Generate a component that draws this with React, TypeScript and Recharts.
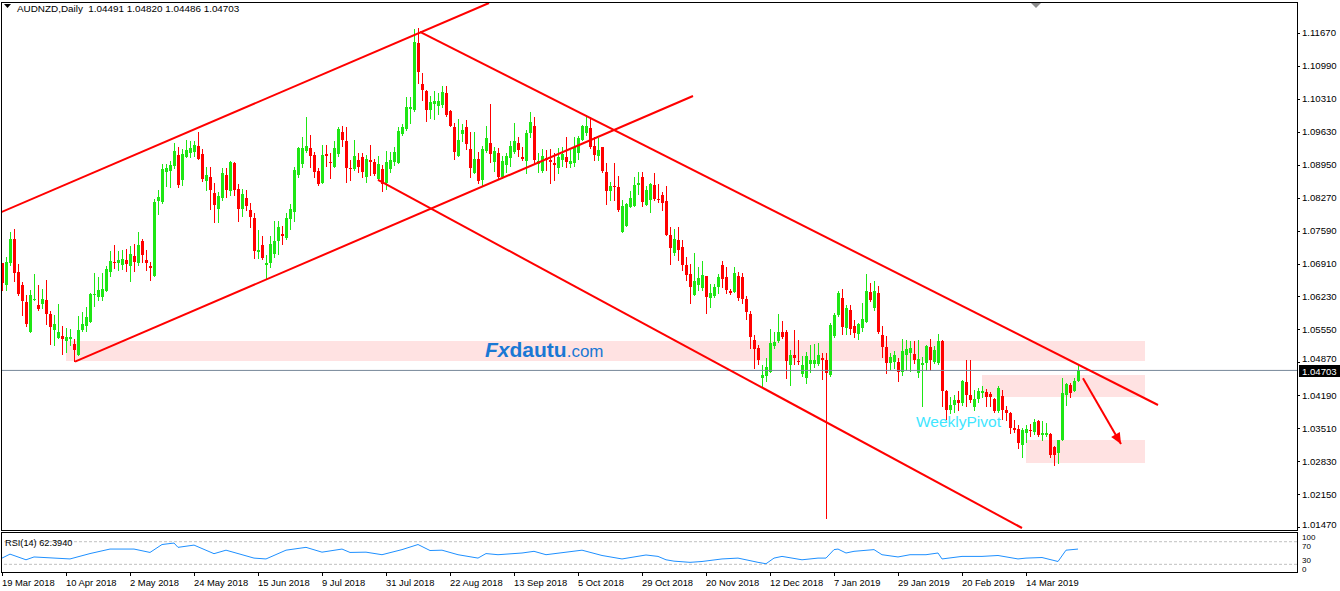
import React from "react";
import {
  ComposedChart,
  Bar,
  Line,
  XAxis,
  YAxis,
  ReferenceLine,
  ReferenceArea,
  ReferenceDot,
} from "recharts";

const FONT = "'Liberation Sans', Arial, sans-serif";
const UP = "#1ee614";
const DOWN = "#ff0000";

// daily candles AUDNZD, bar index 0 = 19 Mar 2018
const opens = [
  1.0692, 1.0647, 1.0692, 1.0742, 1.0673, 1.0646, 1.0611, 1.0549, 1.0615, 1.0606,
  1.0608, 1.0616, 1.0587, 1.0553, 1.0538, 1.0542, 1.053, 1.0535, 1.0525, 1.0502,
  1.0554, 1.0563, 1.057, 1.0626, 1.0621, 1.0621, 1.0635, 1.0673, 1.0695, 1.0693,
  1.0688, 1.0698, 1.0686, 1.0707, 1.0692, 1.0738, 1.0698, 1.0686, 1.0666, 1.0821,
  1.0819, 1.0881, 1.0883, 1.0893, 1.0915, 1.0864, 1.091, 1.092, 1.0922, 1.0934,
  1.0917, 1.0862, 1.087, 1.0837, 1.0804, 1.0826, 1.0874, 1.084, 1.0899, 1.0845,
  1.0804, 1.0826, 1.0802, 1.0784, 1.0714, 1.0729, 1.0687, 1.0692, 1.0711, 1.0738,
  1.0752, 1.0743, 1.0783, 1.0798, 1.0873, 1.0897, 1.0923, 1.0929, 1.0915, 1.0883,
  1.0858, 1.0917, 1.0901, 1.0891, 1.0917, 1.0962, 1.0945, 1.0889, 1.0886, 1.0905,
  1.091, 1.087, 1.0905, 1.0901, 1.0865, 1.0886, 1.0857, 1.0886, 1.0901, 1.0899,
  1.0959, 1.0969, 1.101, 1.1008, 1.1146, 1.1062, 1.1048, 1.1009, 1.102, 1.1017,
  1.1018, 1.1044, 1.1005, 1.0972, 1.0913, 1.0959, 1.0972, 1.0928, 1.0877, 1.0907,
  1.0864, 1.0923, 1.0939, 1.0901, 1.092, 1.087, 1.0895, 1.0908, 1.0922, 1.0939,
  1.091, 1.0903, 1.0961, 1.0975, 1.0897, 1.0883, 1.0908, 1.0905, 1.0899, 1.0888,
  1.0904, 1.091, 1.0897, 1.0898, 1.092, 1.0946, 1.096, 1.097, 1.0934, 1.0912,
  1.0931, 1.0881, 1.0841, 1.0851, 1.085, 1.0757, 1.0769, 1.0807, 1.0809, 1.0853,
  1.087, 1.0812, 1.0822, 1.0853, 1.0825, 1.0833, 1.082, 1.075, 1.0712, 1.074,
  1.0725, 1.0688, 1.067, 1.0626, 1.0647, 1.064, 1.0665, 1.0619, 1.0623, 1.0643,
  1.0688, 1.0663, 1.0635, 1.0633, 1.0665, 1.0663, 1.0618, 1.0587, 1.0533, 1.0516,
  1.0454, 1.0459, 1.0466, 1.052, 1.0532, 1.055, 1.055, 1.0482, 1.0502, 1.0489,
  1.0463, 1.0454, 1.0484, 1.0484, 1.0484, 1.0495, 1.0492, 1.0461, 1.0541, 1.0585,
  1.0619, 1.0557, 1.0595, 1.0561, 1.0546, 1.0558, 1.0571, 1.0633, 1.0599, 1.0631,
  1.0544, 1.0518, 1.0485, 1.0488, 1.0488, 1.0468, 1.0502, 1.0507, 1.0505, 1.0464,
  1.0482, 1.0485, 1.0518, 1.0488, 1.0485, 1.0532, 1.0427, 1.0389, 1.0399, 1.0409,
  1.0402, 1.0447, 1.042, 1.0394, 1.0411, 1.0423, 1.0425, 1.0421, 1.0411, 1.0387,
  1.0418, 1.0389, 1.0383, 1.0351, 1.0349, 1.0316, 1.0341, 1.0347, 1.0344, 1.0365,
  1.0337, 1.0337, 1.0339, 1.0313, 1.0299, 1.0327, 1.042, 1.044, 1.0427, 1.04491,
];
const highs = [
  1.0693, 1.0704, 1.0756, 1.0762, 1.069, 1.0652, 1.0625, 1.0637, 1.067, 1.0647,
  1.0638, 1.0657, 1.0594, 1.0585, 1.0608, 1.0562, 1.0557, 1.0555, 1.0535, 1.0583,
  1.059, 1.0601, 1.0631, 1.0671, 1.0664, 1.0671, 1.0685, 1.0716, 1.073, 1.0716,
  1.0719, 1.0721, 1.0728, 1.0732, 1.0756, 1.0742, 1.0719, 1.0695, 1.0824, 1.0843,
  1.0897, 1.0897, 1.0902, 1.0939, 1.0931, 1.0928, 1.0947, 1.0945, 1.0943, 1.0963,
  1.0928, 1.0891, 1.0891, 1.0857, 1.0838, 1.0888, 1.0888, 1.0903, 1.0901, 1.0855,
  1.0845, 1.0843, 1.0815, 1.0795, 1.076, 1.0748, 1.0709, 1.0748, 1.0778, 1.0779,
  1.0769, 1.0795, 1.0813, 1.0891, 1.0932, 1.0953, 1.0993, 1.0956, 1.0922, 1.0888,
  1.0936, 1.0936, 1.0919, 1.0943, 1.0972, 1.0975, 1.0972, 1.0905, 1.0946, 1.092,
  1.092, 1.0915, 1.0936, 1.0906, 1.0912, 1.0895, 1.0923, 1.0922, 1.0932, 1.0972,
  1.0979, 1.1034, 1.1034, 1.1175, 1.1177, 1.1084, 1.1049, 1.1037, 1.1048, 1.1044,
  1.1058, 1.1058, 1.1007, 1.0981, 1.0989, 1.0979, 1.0988, 1.0963, 1.0963, 1.0922,
  1.0934, 1.0975, 1.102, 1.0932, 1.0929, 1.0912, 1.092, 1.0945, 1.0981, 1.0952,
  1.0932, 1.0967, 1.1003, 1.0994, 1.0919, 1.0927, 1.0926, 1.0927, 1.0919, 1.0929,
  1.0931, 1.0952, 1.0926, 1.0952, 1.0954, 1.0977, 1.0998, 1.0993, 1.0953, 1.095,
  1.0932, 1.0898, 1.086, 1.0899, 1.0872, 1.0822, 1.0817, 1.0841, 1.087, 1.0879,
  1.0879, 1.0851, 1.0858, 1.0877, 1.0855, 1.0838, 1.0851, 1.0766, 1.0762, 1.0766,
  1.074, 1.0705, 1.069, 1.0712, 1.0683, 1.0696, 1.0665, 1.0649, 1.0649, 1.0669,
  1.0697, 1.0683, 1.0638, 1.0683, 1.0674, 1.0671, 1.0624, 1.0592, 1.0544, 1.0523,
  1.0482, 1.0495, 1.0556, 1.055, 1.0587, 1.0573, 1.0554, 1.0513, 1.0554, 1.0533,
  1.05, 1.0509, 1.0523, 1.0525, 1.0526, 1.0507, 1.0507, 1.0568, 1.0588, 1.0635,
  1.0638, 1.0606, 1.0606, 1.0575, 1.0569, 1.0609, 1.0669, 1.065, 1.0654, 1.0645,
  1.0561, 1.0541, 1.0507, 1.0511, 1.0495, 1.0535, 1.0533, 1.0532, 1.053, 1.0533,
  1.0497, 1.0523, 1.0535, 1.0521, 1.0546, 1.0533, 1.043, 1.0416, 1.042, 1.0427,
  1.0451, 1.0491, 1.0491, 1.043, 1.0434, 1.0438, 1.0431, 1.0425, 1.0413, 1.0438,
  1.0429, 1.0396, 1.0385, 1.0367, 1.0358, 1.0351, 1.0358, 1.036, 1.037, 1.0367,
  1.0365, 1.0361, 1.0342, 1.0315, 1.0327, 1.0454, 1.0444, 1.0444, 1.0454, 1.0482,
];
const lows = [
  1.0637, 1.0637, 1.0687, 1.0654, 1.0626, 1.0584, 1.0562, 1.0549, 1.0615, 1.0595,
  1.0599, 1.0566, 1.0525, 1.0523, 1.0538, 1.0504, 1.0509, 1.0523, 1.0489, 1.0502,
  1.0551, 1.0551, 1.057, 1.0604, 1.0615, 1.0616, 1.0635, 1.0666, 1.0681, 1.0678,
  1.0679, 1.0675, 1.0654, 1.0675, 1.0687, 1.0695, 1.0677, 1.0656, 1.0666, 1.0794,
  1.0816, 1.0852, 1.085, 1.0888, 1.085, 1.0853, 1.091, 1.091, 1.0912, 1.0906,
  1.0862, 1.0843, 1.0804, 1.0776, 1.0776, 1.0822, 1.0829, 1.0833, 1.0833, 1.0778,
  1.079, 1.0802, 1.0767, 1.0702, 1.0702, 1.0701, 1.0661, 1.0683, 1.0704, 1.0711,
  1.0732, 1.0742, 1.0763, 1.0778, 1.087, 1.089, 1.0922, 1.0891, 1.087, 1.0853,
  1.0858, 1.0893, 1.0868, 1.0891, 1.0912, 1.0934, 1.086, 1.0864, 1.0884, 1.0881,
  1.087, 1.086, 1.0874, 1.0873, 1.0864, 1.084, 1.0844, 1.0881, 1.0895, 1.0898,
  1.0957, 1.0967, 1.0981, 1.1006, 1.1063, 1.1029, 1.0986, 1.0991, 1.099, 1.1,
  1.1014, 1.0996, 1.0975, 1.0906, 1.0913, 1.0945, 1.0927, 1.087, 1.0877, 1.0857,
  1.0852, 1.0922, 1.0901, 1.0883, 1.0867, 1.0867, 1.0881, 1.0893, 1.0919, 1.0912,
  1.0905, 1.0877, 1.0953, 1.0898, 1.0881, 1.0881, 1.0884, 1.0857, 1.0864, 1.0877,
  1.0893, 1.0891, 1.0891, 1.0893, 1.0906, 1.0946, 1.0957, 1.0929, 1.0905, 1.0905,
  1.0881, 1.0814, 1.0822, 1.0822, 1.08, 1.0757, 1.0769, 1.0807, 1.0809, 1.0835,
  1.0809, 1.0811, 1.0798, 1.0822, 1.0819, 1.0802, 1.075, 1.069, 1.0709, 1.0698,
  1.0678, 1.0657, 1.061, 1.0626, 1.0637, 1.0637, 1.0588, 1.0601, 1.0621, 1.0631,
  1.0643, 1.0631, 1.0628, 1.0633, 1.0616, 1.061, 1.0576, 1.0516, 1.0475, 1.0484,
  1.0437, 1.0449, 1.0466, 1.0516, 1.0528, 1.0537, 1.0454, 1.044, 1.0484, 1.0484,
  1.0458, 1.0444, 1.0466, 1.0477, 1.0482, 1.0452, 1.0165, 1.0458, 1.054, 1.0583,
  1.0546, 1.0546, 1.0546, 1.0539, 1.0535, 1.0551, 1.0571, 1.0614, 1.0595, 1.0547,
  1.0497, 1.0464, 1.0473, 1.0475, 1.0449, 1.0461, 1.0471, 1.047, 1.0486, 1.0457,
  1.0397, 1.0471, 1.0471, 1.0486, 1.0484, 1.0396, 1.0369, 1.0383, 1.0385, 1.0389,
  1.0399, 1.0397, 1.0406, 1.0389, 1.0406, 1.0415, 1.0396, 1.0396, 1.0385, 1.0385,
  1.0369, 1.0367, 1.0342, 1.0344, 1.031, 1.0292, 1.0322, 1.0334, 1.0339, 1.0334,
  1.0327, 1.0334, 1.0292, 1.0275, 1.028, 1.0327, 1.0399, 1.0416, 1.0427, 1.04486,
];
const closes = [
  1.065, 1.0694, 1.0742, 1.0671, 1.0628, 1.0614, 1.0566, 1.0626, 1.0618, 1.0597,
  1.0617, 1.0587, 1.056, 1.0566, 1.0549, 1.0535, 1.0539, 1.0539, 1.0513, 1.0554,
  1.0566, 1.058, 1.0628, 1.0628, 1.0637, 1.0638, 1.068, 1.0697, 1.0693, 1.0698,
  1.0701, 1.069, 1.0711, 1.0695, 1.073, 1.0709, 1.0693, 1.0681, 1.0819, 1.0828,
  1.0886, 1.0889, 1.0895, 1.0924, 1.0853, 1.0917, 1.0925, 1.093, 1.0936, 1.0906,
  1.0866, 1.0874, 1.0842, 1.0811, 1.0831, 1.0877, 1.0842, 1.0901, 1.0842, 1.0804,
  1.0835, 1.0809, 1.0788, 1.0716, 1.0718, 1.0702, 1.0692, 1.0732, 1.0738, 1.0767,
  1.0747, 1.0784, 1.0803, 1.0884, 1.093, 1.093, 1.0934, 1.0912, 1.0879, 1.0855,
  1.0915, 1.0912, 1.0899, 1.093, 1.0968, 1.0946, 1.0889, 1.0886, 1.0913, 1.0891,
  1.0879, 1.0907, 1.0901, 1.0876, 1.0897, 1.0855, 1.0901, 1.0904, 1.0921, 1.0965,
  1.0972, 1.1014, 1.1014, 1.1149, 1.1087, 1.1049, 1.1009, 1.1025, 1.1027, 1.1027,
  1.1046, 1.0998, 1.0975, 1.0921, 1.0946, 1.0967, 1.0938, 1.0888, 1.0907, 1.0862,
  1.0928, 1.095, 1.0917, 1.0923, 1.087, 1.0903, 1.0912, 1.0934, 1.0943, 1.0926,
  1.0907, 1.0961, 1.0983, 1.0904, 1.0903, 1.0912, 1.0905, 1.09, 1.0894, 1.091,
  1.0917, 1.0901, 1.0903, 1.0931, 1.095, 1.0975, 1.0975, 1.0931, 1.0915, 1.0926,
  1.0882, 1.084, 1.0851, 1.0848, 1.0802, 1.0809, 1.0814, 1.0827, 1.0853, 1.0858,
  1.0819, 1.0843, 1.0855, 1.0824, 1.0822, 1.0815, 1.075, 1.0723, 1.0742, 1.0718,
  1.0688, 1.0668, 1.0643, 1.0654, 1.0662, 1.0667, 1.0621, 1.063, 1.0642, 1.0663,
  1.066, 1.0636, 1.0631, 1.0671, 1.0619, 1.0617, 1.059, 1.0539, 1.0514, 1.0491,
  1.0461, 1.0478, 1.0526, 1.0529, 1.055, 1.054, 1.0489, 1.0502, 1.0495, 1.0487,
  1.0482, 1.05, 1.0492, 1.0491, 1.0502, 1.0492, 1.0465, 1.0564, 1.0585, 1.0631,
  1.0559, 1.0599, 1.0555, 1.0548, 1.0566, 1.0576, 1.0635, 1.0616, 1.0635, 1.055,
  1.0518, 1.0486, 1.0499, 1.0502, 1.0468, 1.0511, 1.0514, 1.0516, 1.0492, 1.0493,
  1.0485, 1.0521, 1.0492, 1.0512, 1.0532, 1.0427, 1.0389, 1.0399, 1.0409, 1.0404,
  1.0449, 1.042, 1.0409, 1.0411, 1.0427, 1.0427, 1.0415, 1.0416, 1.0387, 1.0434,
  1.0389, 1.0383, 1.0351, 1.0347, 1.032, 1.0347, 1.0349, 1.0346, 1.0363, 1.0337,
  1.0342, 1.0341, 1.0296, 1.0296, 1.0327, 1.0423, 1.0442, 1.0423, 1.0449, 1.04703,
];

// RSI(14) read at sampled bars
const rsiBars = [
  0, 2, 6, 8, 17, 22, 27, 33, 37, 40, 43, 44, 48, 53, 56, 59, 63, 66, 71, 76, 80,
  85, 87, 91, 95, 100, 104, 107, 110, 114, 119, 121, 124, 130, 133, 136, 145, 150,
  155, 161, 164, 166, 168, 172, 175, 180, 184, 189, 191, 193, 195, 200, 204, 206,
  208, 209, 211, 213, 218, 220, 224, 227, 231, 234, 235, 240, 245, 249, 254, 256,
  260, 264, 266, 269,
];
const rsiValues = [
  41, 48, 38, 43, 39.5, 49, 57, 57, 51, 65, 67.6, 60, 64, 48.8, 55, 49, 41, 39.5,
  55, 60, 51.5, 57, 51, 51.5, 47, 56, 65, 54.4, 55, 47, 41, 49, 47, 50, 53, 47, 55,
  45.6, 39.5, 46.5, 44, 38, 35.6, 33.5, 35, 39.5, 41, 33.5, 31, 41, 44, 38, 41, 41,
  56, 57, 50, 53, 56, 47, 43, 47, 47, 50, 39.5, 44, 44, 45.6, 39.5, 41, 42, 35, 55,
  57,
];

const priceTicks = [
  1.0147, 1.0215, 1.0283, 1.0351, 1.0419, 1.0487, 1.0555, 1.0623, 1.0691, 1.0759,
  1.0827, 1.0895, 1.0963, 1.1031, 1.1099, 1.1167,
];
const dateBars = [0, 16, 32, 48, 64, 80, 96, 112, 128, 144, 160, 176, 192, 208, 224, 240, 256];
const dateLabels = [
  "19 Mar 2018", "10 Apr 2018", "2 May 2018", "24 May 2018", "15 Jun 2018",
  "9 Jul 2018", "31 Jul 2018", "22 Aug 2018", "13 Sep 2018", "5 Oct 2018",
  "29 Oct 2018", "20 Nov 2018", "12 Dec 2018", "7 Jan 2019", "29 Jan 2019",
  "20 Feb 2019", "14 Mar 2019",
];

// drawn objects (bar index, price)
const zoneStart = [16, 245, 256];
const zoneEnd = [285.75, 285.75, 285.75];
const zoneLow = [1.04897, 1.04154, 1.02791];
const zoneHigh = [1.0531, 1.04608, 1.03266];
const trendFrom = [[-0.5, 1.0796], [18.25, 1.04883], [104.5, 1.11691], [94, 1.08635]];
const trendTo = [[121.75, 1.1229], [172.75, 1.10369], [289, 1.03989], [255, 1.01449]];
const arrowFrom = [270.25, 1.0454];
const arrowTo = [279.75, 1.03184];

const X_DOMAIN: [number, number] = [-0.25, 323.75];
const P_MIN = 1.014077;
const P_MAX = 1.122894;
const RSI_MIN = 16.4;
const RSI_MAX = 85.4;

const candles = opens.map((o, i) => ({
  i,
  o,
  h: highs[i],
  l: lows[i],
  c: closes[i],
  range: [lows[i], highs[i]],
}));
const rsiData = rsiBars.map((b, k) => ({ i: b, v: rsiValues[k] }));
const lastClose = closes[closes.length - 1];

function Candle(props: any) {
  const { x, y, width, height, payload } = props;
  if (!payload || x == null || y == null) return null;
  const { o, h, l, c } = payload;
  const top = Math.min(y, y + height);
  const span = Math.abs(height);
  const k = h > l ? span / (h - l) : 0;
  const py = (v: number) => top + (h - v) * k;
  const cx = Math.round(x + width / 2) + 0.5;
  const col = c >= o ? UP : DOWN;
  const bt = Math.round(py(Math.max(o, c)));
  const bb = Math.round(py(Math.min(o, c)));
  return (
    <g>
      <line x1={cx} x2={cx} y1={Math.round(top)} y2={Math.round(top + span) + 1} stroke={col} />
      <rect x={cx - 1.5} y={bt} width={3} height={Math.max(1, bb - bt)} fill={col} />
    </g>
  );
}

function PriceTick(props: any) {
  const { y, payload } = props;
  const v = payload.value;
  // labels crowded by the bid tag or the panel edge sit a little higher
  let lift = 0;
  if (Math.abs(v - lastClose) < 0.0025) lift = -3.5;
  else if (v === priceTicks[0]) lift = -2;
  return (
    <g>
      <line x1={1297} x2={1300} y1={Math.round(y) + 0.5} y2={Math.round(y) + 0.5} stroke="#000" />
      <text x={1302} y={y + 3.5 + lift} fontSize={9.6} fontFamily={FONT} fill="#000">
        {v.toFixed(5)}
      </text>
    </g>
  );
}

function PriceTag(props: any) {
  const vb = props.viewBox || {};
  const y = Math.round(vb.y);
  return (
    <g>
      <rect x={1299} y={y - 5} width={41} height={12} fill="#000" />
      <text x={1302} y={y + 4.5} fontSize={9.6} fontFamily={FONT} fill="#fff">
        {lastClose.toFixed(5)}
      </text>
    </g>
  );
}

function ArrowHead(props: any) {
  const { cx, cy } = props;
  if (cx == null) return null;
  return (
    <polygon
      points="0,0 -11,-5 -11,5"
      fill={DOWN}
      transform={`translate(${cx},${cy}) rotate(60)`}
    />
  );
}

function DateTick(props: any) {
  const { x, payload } = props;
  const k = dateBars.indexOf(payload.value);
  const tx = Math.round(x) + 0.5;
  return (
    <g>
      <line x1={tx} x2={tx} y1={47} y2={51} stroke="#000" />
      <text x={x} y={61} fontSize={9.4} fontFamily={FONT} fill="#000">
        {dateLabels[k]}
      </text>
    </g>
  );
}

function RsiTick(props: any) {
  const { y, payload } = props;
  const v = payload.value;
  const hi = v === 70;
  return (
    <g fontSize={8} fontFamily={FONT} fill="#000">
      <text x={1302} y={hi ? y + 7.5 : y - 1.5}>{v}</text>
      <text x={1302} y={hi ? y - 1.5 : y + 7.5}>{hi ? "100" : "0"}</text>
    </g>
  );
}

export default function App() {
  return (
    <div
      style={{
        position: "absolute",
        left: 0,
        top: 0,
        width: 1340,
        height: 591,
        background: "#fff",
        overflow: "hidden",
        fontFamily: FONT,
      }}
    >
      <div style={{ position: "absolute", left: 0, top: 0 }}>
        <ComposedChart
          width={1340}
          height={542}
          data={candles}
          margin={{ top: 3, right: 0, bottom: 12, left: 1 }}
        >
          <XAxis type="number" dataKey="i" domain={X_DOMAIN} allowDataOverflow hide />
          <YAxis
            orientation="right"
            width={43}
            domain={[P_MIN, P_MAX]}
            allowDataOverflow
            ticks={priceTicks}
            interval={0}
            tick={<PriceTick />}
            tickLine={false}
            axisLine={false}
          />
          {zoneStart.map((x1, k) => (
            <ReferenceArea
              key={"z" + k}
              x1={x1}
              x2={zoneEnd[k]}
              y1={zoneLow[k]}
              y2={zoneHigh[k]}
              fill="#ffe2e2"
              fillOpacity={1}
              stroke="none"
              ifOverflow="hidden"
            />
          ))}
          <ReferenceLine y={lastClose} stroke="#778899" label={<PriceTag />} />
          <Bar dataKey="range" shape={<Candle />} barSize={3} isAnimationActive={false} />
          {trendFrom.map((p, k) => (
            <ReferenceLine
              key={"t" + k}
              segment={[
                { x: p[0], y: p[1] },
                { x: trendTo[k][0], y: trendTo[k][1] },
              ]}
              stroke={DOWN}
              strokeWidth={2}
              ifOverflow="hidden"
            />
          ))}
          <ReferenceLine
            segment={[
              { x: arrowFrom[0], y: arrowFrom[1] },
              { x: arrowTo[0], y: arrowTo[1] },
            ]}
            stroke={DOWN}
            strokeWidth={2}
            ifOverflow="hidden"
          />
          <ReferenceDot x={arrowTo[0]} y={arrowTo[1]} r={1} shape={<ArrowHead />} ifOverflow="hidden" />
        </ComposedChart>
      </div>

      <div style={{ position: "absolute", left: 0, top: 525 }}>
        <ComposedChart
          width={1340}
          height={66}
          data={rsiData}
          margin={{ top: 8, right: 0, bottom: 0, left: 1 }}
        >
          <XAxis
            type="number"
            dataKey="i"
            domain={X_DOMAIN}
            allowDataOverflow
            ticks={dateBars}
            interval={0}
            height={19}
            tick={<DateTick />}
            tickLine={false}
            axisLine={false}
          />
          <YAxis
            orientation="right"
            width={43}
            domain={[RSI_MIN, RSI_MAX]}
            allowDataOverflow
            ticks={[70, 30]}
            interval={0}
            tick={<RsiTick />}
            tickLine={false}
            axisLine={false}
          />
          <ReferenceLine y={70} stroke="#c0c0c0" strokeDasharray="3 2" />
          <ReferenceLine y={30} stroke="#c0c0c0" strokeDasharray="3 2" />
          <Line
            dataKey="v"
            type="linear"
            stroke="#1e90ff"
            strokeWidth={1}
            dot={false}
            isAnimationActive={false}
          />
        </ComposedChart>
      </div>

      {/* panel frames */}
      <div
        style={{
          position: "absolute",
          left: 1,
          top: 2,
          width: 1297,
          height: 529,
          border: "1px solid #000",
          boxSizing: "border-box",
          pointerEvents: "none",
        }}
      />
      <div
        style={{
          position: "absolute",
          left: 1,
          top: 532,
          width: 1297,
          height: 41,
          border: "1px solid #000",
          boxSizing: "border-box",
          pointerEvents: "none",
        }}
      />

      <svg
        width={1340}
        height={591}
        style={{ position: "absolute", left: 0, top: 0, pointerEvents: "none" }}
      >
        <polygon points="4,4 11,4 7.5,8" fill="#000" />
        <text x={17} y={12} fontSize={9.9} fontFamily={FONT} fill="#000" style={{ whiteSpace: "pre" }}>
          {"AUDNZD,Daily  1.04491 1.04820 1.04486 1.04703"}
        </text>
        <polygon points="1031,3 1041,3 1036,8" fill="#8c8c8c" />
        <text x={485} y={357} fontFamily={FONT} fill="#1a78d4">
          <tspan fontSize={21} fontWeight="bold" fontStyle="italic">Fx</tspan>
          <tspan fontSize={21} fontWeight="bold">dautu</tspan>
          <tspan fontSize={17}>.com</tspan>
        </text>
        <text x={916} y={427} fontSize={15.5} fontFamily={FONT} fill="#3fe6ff">
          WeeklyPivot
        </text>
        <text x={5} y={546} fontSize={9.2} fontFamily={FONT} fill="#000">
          RSI(14) 62.3940
        </text>
      </svg>
    </div>
  );
}
